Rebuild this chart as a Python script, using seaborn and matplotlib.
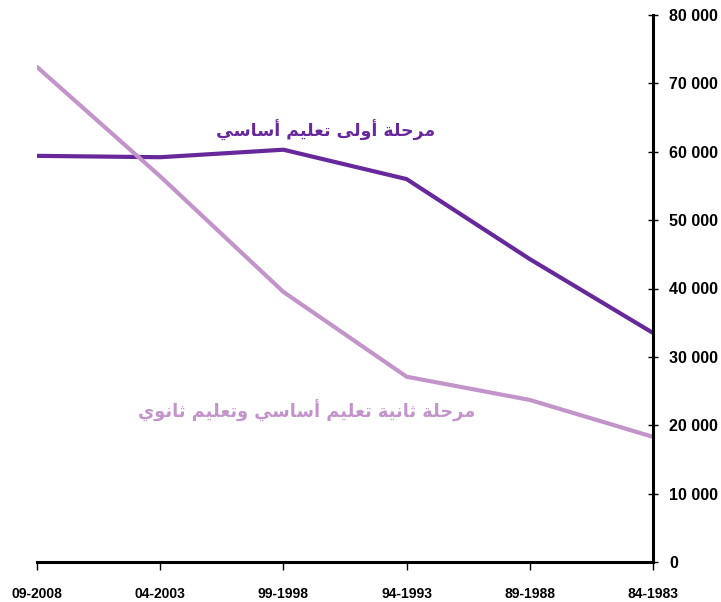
import matplotlib
matplotlib.use("Agg")
import matplotlib.pyplot as plt
from matplotlib.ticker import FuncFormatter
import seaborn as sns
import pandas as pd

# ---- data ----
periods = ["84-1983", "89-1988", "94-1993", "99-1998", "04-2003", "09-2008"]
primary_cycle1 = [33500, 44300, 56000, 60300, 59200, 59400]
cycle2_secondary = [18300, 23700, 27100, 39500, 56400, 72400]
label_cycle1 = "مرحلة أولى تعليم أساسي"
label_cycle2 = "مرحلة ثانية تعليم أساسي وتعليم ثانوي"
y_ticks = [0, 10000, 20000, 30000, 40000, 50000, 60000, 70000, 80000]

# ---- minimal Arabic shaping (presentation forms) ----
FORMS = {  # iso, fin, ini, med
    "\u0627": ("\uFE8D", "\uFE8E", None, None),
    "\u0623": ("\uFE83", "\uFE84", None, None),
    "\u062A": ("\uFE95", "\uFE96", "\uFE97", "\uFE98"),
    "\u062B": ("\uFE99", "\uFE9A", "\uFE9B", "\uFE9C"),
    "\u062D": ("\uFEA1", "\uFEA2", "\uFEA3", "\uFEA4"),
    "\u0631": ("\uFEAD", "\uFEAE", None, None),
    "\u0633": ("\uFEB1", "\uFEB2", "\uFEB3", "\uFEB4"),
    "\u0639": ("\uFEC9", "\uFECA", "\uFECB", "\uFECC"),
    "\u0644": ("\uFEDD", "\uFEDE", "\uFEDF", "\uFEE0"),
    "\u0645": ("\uFEE1", "\uFEE2", "\uFEE3", "\uFEE4"),
    "\u0646": ("\uFEE5", "\uFEE6", "\uFEE7", "\uFEE8"),
    "\u0629": ("\uFE93", "\uFE94", None, None),
    "\u0648": ("\uFEED", "\uFEEE", None, None),
    "\u0649": ("\uFEEF", "\uFEF0", None, None),
    "\u064A": ("\uFEF1", "\uFEF2", "\uFEF3", "\uFEF4"),
}


def shape(text):
    out = []
    n = len(text)
    for i, ch in enumerate(text):
        if ch not in FORMS:
            out.append(ch)
            continue
        iso, fin, ini, med = FORMS[ch]
        prev = text[i - 1] if i > 0 else None
        nxt = text[i + 1] if i < n - 1 else None
        join_prev = prev in FORMS and FORMS[prev][2] is not None
        join_next = nxt in FORMS and ini is not None
        if join_prev and join_next:
            out.append(med)
        elif join_prev:
            out.append(fin)
        elif join_next:
            out.append(ini)
        else:
            out.append(iso)
    return "".join(out)[::-1]


dark = "#66289A"
light = "#C394CA"

df = pd.DataFrame({
    "period": periods * 2,
    "value": primary_cycle1 + cycle2_secondary,
    "series": [label_cycle1] * len(periods) + [label_cycle2] * len(periods),
})

sns.set_style("white")
plt.rcParams["font.family"] = ["Liberation Sans", "DejaVu Sans"]

fig = plt.figure(figsize=(7.21, 6.02), dpi=100)
ax = fig.add_axes([37 / 721, 40 / 602, (653 - 37) / 721, (562 - 15) / 602])

sns.lineplot(data=df, x="period", y="value", hue="series",
             palette={label_cycle1: dark, label_cycle2: light},
             linewidth=3.0, legend=False, ax=ax, sort=False)

ax.set_xlim(len(periods) - 1, 0)
ax.set_ylim(0, 80000)
ax.set_xlabel("")
ax.set_ylabel("")

ax.yaxis.tick_right()
ax.set_yticks(y_ticks)
ax.yaxis.set_major_formatter(FuncFormatter(lambda v, p: f"{int(v):,}".replace(",", " ")))
ax.set_xticks(range(len(periods)))
ax.set_xticklabels(periods)

for s in ["left", "top"]:
    ax.spines[s].set_visible(False)
for s in ["right", "bottom"]:
    ax.spines[s].set_visible(True)
    ax.spines[s].set_linewidth(2.2)
    ax.spines[s].set_color("black")

ax.tick_params(axis="x", direction="out", length=6, width=1, pad=12,
               labelsize=10, colors="black", bottom=True)
ax.tick_params(axis="y", direction="inout", length=7, width=1, pad=8,
               labelsize=11.5, colors="black", right=True, left=False)
for lab in ax.get_xticklabels() + ax.get_yticklabels():
    lab.set_fontweight("bold")

ax.grid(False)

ax.text(3.0 - (327 - 285) / 123.2, (562 - 130) / 68.4 * 10000,
        shape(label_cycle1), color=dark, fontsize=12.5, fontweight="bold",
        ha="center", va="center", family=["DejaVu Sans"])
ax.text(3.0 - (308 - 285) / 123.2, (562 - 411) / 68.4 * 10000,
        shape(label_cycle2), color=light, fontsize=12.8, fontweight="bold",
        ha="center", va="center", family=["DejaVu Sans"])

fig.savefig("out.png", dpi=100, facecolor="white")
